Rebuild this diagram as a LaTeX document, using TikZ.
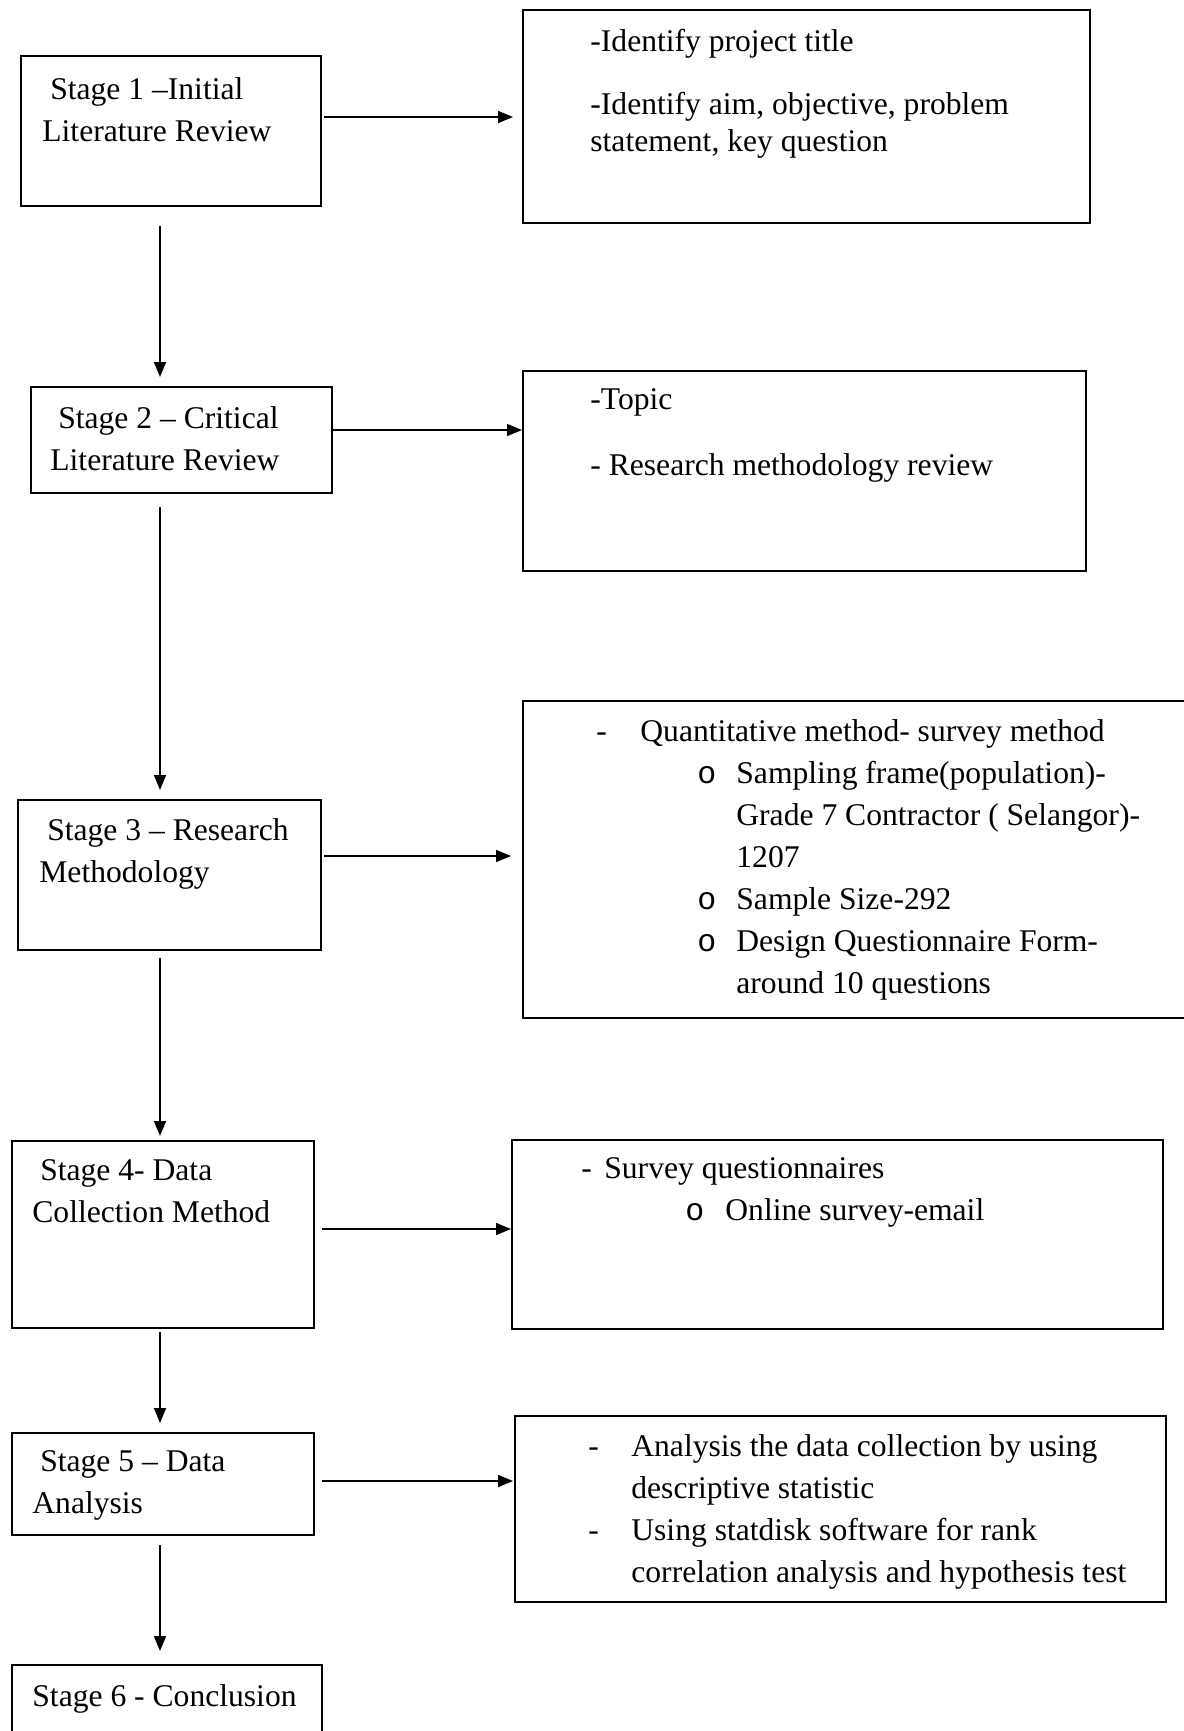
\documentclass[tikz,border=0pt]{standalone}
\usepackage{fontspec}
\setmainfont{Liberation Serif}
\newfontfamily\bulletfont{Liberation Mono}
\usetikzlibrary{arrows.meta}

\tikzset{
  stagebox/.style={draw, line width=1pt, inner sep=0pt, anchor=north west},
  boxtext/.style={anchor=north west, align=left, inner sep=0pt,
    font=\fontsize{15.8}{21}\selectfont},
  flow/.style={line width=0.8pt, -{Triangle[length=7.5pt,width=6pt]}}
}
\newcommand{\subdot}{{\bulletfont o}}

\begin{document}
\begin{tikzpicture}[x=0.5pt,y=-0.5pt]

  \useasboundingbox (0,0) rectangle (1184,1731);
  \coordinate (axis) at (160,0);

  % stages on the left
  \node[stagebox, minimum width=150pt, minimum height=75pt] (s1) at (20,55) {};
  \node[stagebox, minimum width=150.5pt, minimum height=53pt] (s2) at (30,386) {};
  \node[stagebox, minimum width=151.5pt, minimum height=75pt] (s3) at (17,799) {};
  \node[stagebox, minimum width=151pt, minimum height=93.5pt] (s4) at (11,1140) {};
  \node[stagebox, minimum width=151pt, minimum height=51pt] (s5) at (11,1432) {};
  \node[stagebox, minimum width=155pt, minimum height=43pt] (s6) at (11,1664) {};

  \node[boxtext] (s1t) at (42,77) {\hspace*{.25em}Stage 1 –Initial\\Literature Review};
  \node[boxtext] (s2t) at (50,406) {\hspace*{.25em}Stage 2 – Critical\\Literature Review};
  \node[boxtext] (s3t) at (39,818) {\hspace*{.25em}Stage 3 – Research\\Methodology};
  \node[boxtext] (s4t) at (32,1159) {\hspace*{.25em}Stage 4- Data\\Collection Method};
  \node[boxtext] (s5t) at (32,1450) {\hspace*{.25em}Stage 5 – Data\\Analysis};
  \node[boxtext] (s6t) at (32,1684) {Stage 6 - Conclusion};

  % details on the right
  \node[stagebox, minimum width=283.5pt, minimum height=106.5pt] (r1) at (522,9) {};
  \node[stagebox, minimum width=281.5pt, minimum height=100pt] (r2) at (522,370) {};
  \node[stagebox, minimum width=339pt, minimum height=158.5pt] (r3) at (522,700) {};
  \node[stagebox, minimum width=325.5pt, minimum height=94.5pt] (r4) at (511,1139) {};
  \node[stagebox, minimum width=325.5pt, minimum height=93pt] (r5) at (514,1415) {};

  \node[boxtext, font=\fontsize{15.8}{18.5}\selectfont] (r1t) at (590,29)
    {-Identify project title\\[13pt]-Identify aim, objective, problem\\statement, key question};
  \node[boxtext] (r2t) at (590,388) {-Topic\\[12pt]- Research methodology review};
  \node[boxtext] (r3t) at (596,719)
    {\makebox[22pt][l]{-}Quantitative method- survey method\\
     \hspace*{50.5pt}\makebox[19.5pt][l]{\subdot}Sampling frame(population)-\\
     \hspace*{70pt}Grade 7 Contractor ( Selangor)-\\
     \hspace*{70pt}1207\\
     \hspace*{50.5pt}\makebox[19.5pt][l]{\subdot}Sample Size-292\\
     \hspace*{50.5pt}\makebox[19.5pt][l]{\subdot}Design Questionnaire Form-\\
     \hspace*{70pt}around 10 questions};
  \node[boxtext] (r4t) at (581,1157)
    {\makebox[11.5pt][l]{-}Survey questionnaires\\
     \hspace*{52pt}\makebox[20pt][l]{\subdot}Online survey-email};
  \node[boxtext] (r5t) at (588,1434)
    {\makebox[21.5pt][l]{-}Analysis the data collection by using\\
     \hspace*{21.5pt}descriptive statistic\\
     \makebox[21.5pt][l]{-}Using statdisk software for rank\\
     \hspace*{21.5pt}correlation analysis and hypothesis test};

  % arrows down the stages
  \draw[flow, shorten <=9.5pt, shorten >=4.5pt] (s1.south -| axis) -- (s2.north -| axis);
  \draw[flow, shorten <=6.5pt, shorten >=4.5pt] (s2.south -| axis) -- (s3.north -| axis);
  \draw[flow, shorten <=3.5pt, shorten >=2pt] (s3.south -| axis) -- (s4.north -| axis);
  \draw[flow, shorten <=1.5pt, shorten >=4.5pt] (s4.south -| axis) -- (s5.north -| axis);
  \draw[flow, shorten <=4.5pt, shorten >=6.5pt] (s5.south -| axis) -- (s6.north -| axis);

  % arrows across
  \draw[flow, shorten <=1pt, shorten >=4.5pt] (s1.east |- 0,117) -- (r1.west |- 0,117);
  \draw[flow] (s2.east |- 0,430) -- (r2.west |- 0,430);
  \draw[flow, shorten <=1pt, shorten >=5.5pt] (s3.east |- 0,856) -- (r3.west |- 0,856);
  \draw[flow, shorten <=3.5pt] (s4.east |- 0,1229) -- (r4.west |- 0,1229);
  \draw[flow, shorten <=3.5pt, shorten >=0.5pt] (s5.east |- 0,1481) -- (r5.west |- 0,1481);
\end{tikzpicture}
\end{document}
